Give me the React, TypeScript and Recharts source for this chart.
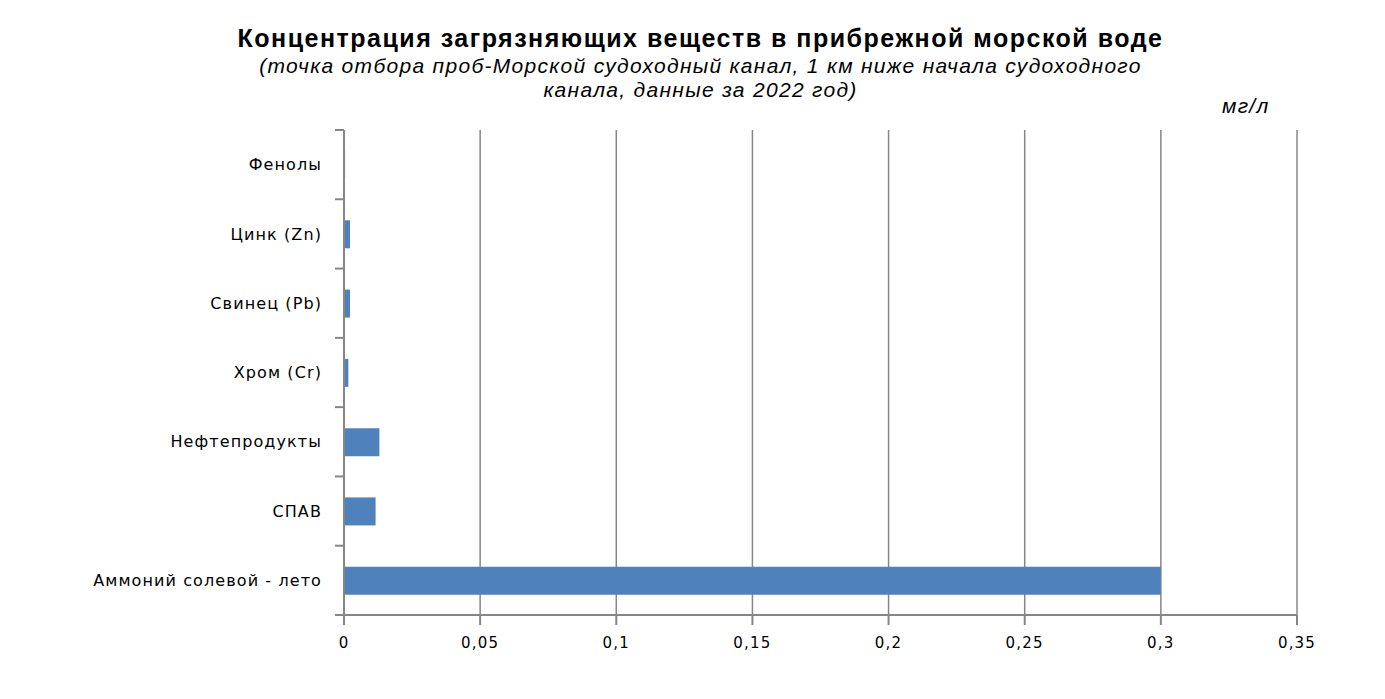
import { Bar, BarChart, CartesianGrid, XAxis, YAxis } from 'recharts';

const substances = [
  'Фенолы',
  'Цинк (Zn)',
  'Свинец (Pb)',
  'Хром (Cr)',
  'Нефтепродукты',
  'СПАВ',
  'Аммоний солевой - лето',
];
const concentrations = [0.0004, 0.0022, 0.0022, 0.0016, 0.013, 0.0116, 0.3];
const xTicks = [0, 0.05, 0.1, 0.15, 0.2, 0.25, 0.3, 0.35];

const data = substances.map((name, i) => ({ name, value: concentrations[i] }));

const W = 1369;
const H = 683;
const margin = { top: 122, right: 80, bottom: 46, left: 0 };
const axisWidth = 336;
const xAxisHeight = 30;
const plotHeight = H - margin.top - margin.bottom - xAxisHeight;
const band = plotHeight / substances.length;
const gray = '#868686';
const tickFont = '"DejaVu Sans", Verdana, sans-serif';
const titleFont = '"Liberation Sans", Arial, sans-serif';

function CategoryTick(props: any) {
  const { x, y, payload, index } = props;
  const ax = x + 8;
  return (
    <g>
      <line x1={ax - 9} x2={ax} y1={y - band / 2} y2={y - band / 2} stroke={gray} strokeWidth={2} />
      {index === substances.length - 1 && (
        <line x1={ax - 9} x2={ax} y1={y + band / 2} y2={y + band / 2} stroke={gray} strokeWidth={2} />
      )}
      <text x={ax - 22} y={y} dy="0.35em" textAnchor="end" fontSize={16} letterSpacing={1.1} fontFamily={tickFont} fill="#000">
        {payload.value}
      </text>
    </g>
  );
}

export default function App() {
  return (
    <div style={{ position: 'relative', width: W, height: H, background: '#fff' }}>
      <div
        style={{
          position: 'absolute',
          left: 0,
          width: 1385,
          top: 14,
          textAlign: 'center',
          fontFamily: titleFont,
          color: '#000',
        }}
      >
        <div style={{ fontSize: 25, fontWeight: 'bold', lineHeight: '32px', letterSpacing: 1.5 }}>
          Концентрация загрязняющих веществ в прибрежной морской воде
        </div>
        <div style={{ fontSize: 21, fontStyle: 'italic', lineHeight: '24px', letterSpacing: 1.3 }}>
          (точка отбора проб-Морской судоходный канал, 1 км ниже начала судоходного
          <br />
          канала, данные за 2022 год)
        </div>
      </div>
      <div
        style={{
          position: 'absolute',
          left: 1214,
          top: 86,
          fontSize: 21,
          fontStyle: 'italic',
          letterSpacing: 1.3,
          fontFamily: titleFont,
        }}
      >
        мг/л
      </div>
      <BarChart width={W} height={H} data={data} layout="vertical" margin={margin}>
        <CartesianGrid horizontal={false} stroke={gray} strokeWidth={1.5} />
        <XAxis
          type="number"
          domain={[0, 0.35]}
          ticks={xTicks}
          height={xAxisHeight}
          tickFormatter={(v: number) => String(v).replace('.', ',')}
          stroke={gray}
          strokeWidth={2}
          tickSize={10}
          tickMargin={12}
          tick={{ fill: '#000', fontSize: 15, letterSpacing: 1.2, fontFamily: tickFont }}
        />
        <YAxis
          type="category"
          dataKey="name"
          width={axisWidth}
          stroke={gray}
          strokeWidth={2}
          tickLine={false}
          tick={<CategoryTick />}
          interval={0}
        />
        <Bar dataKey="value" fill="#4F81BD" barSize={28} isAnimationActive={false} />
      </BarChart>
    </div>
  );
}
